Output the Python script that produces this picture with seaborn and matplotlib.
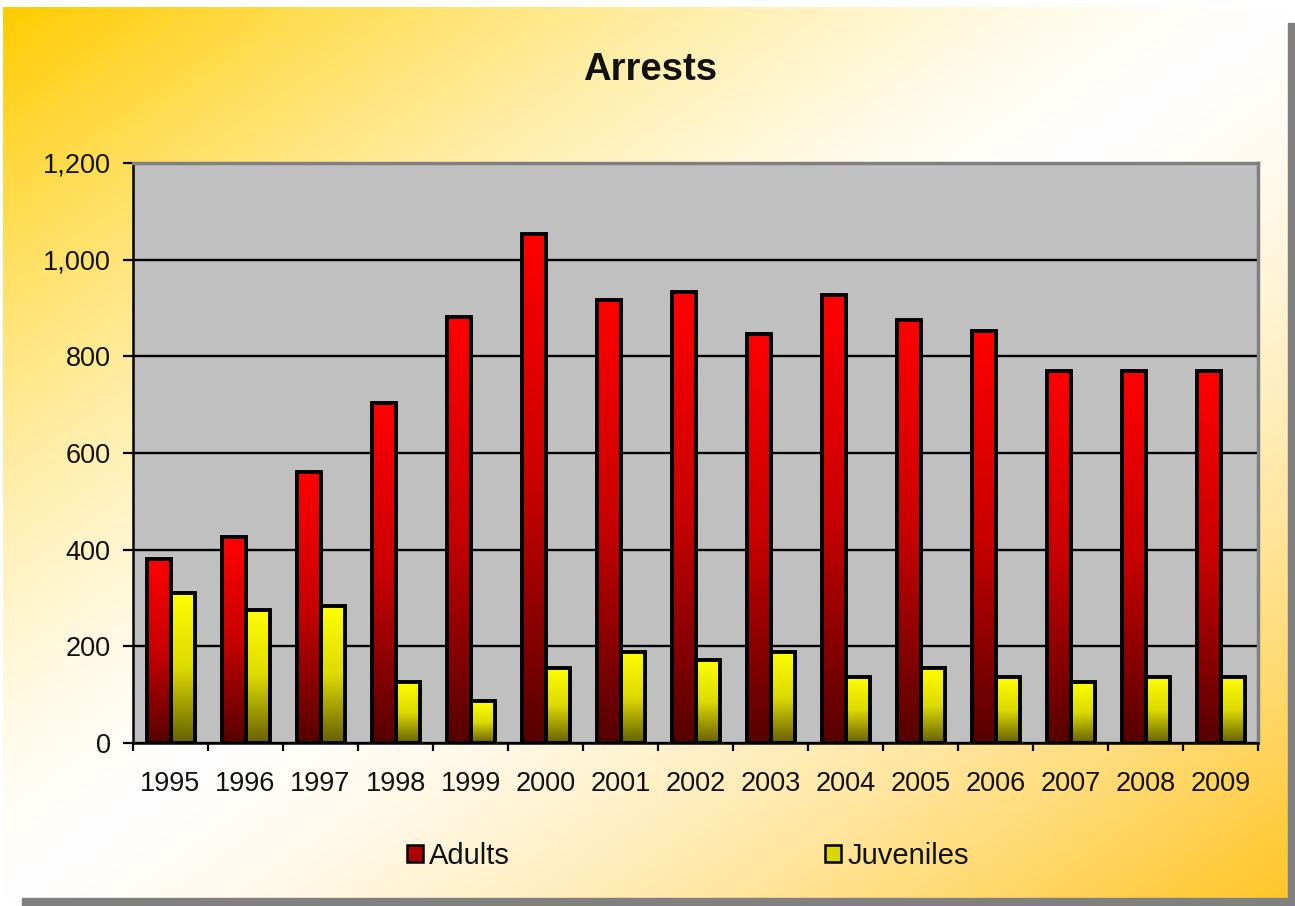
import numpy as np
import pandas as pd
import matplotlib
matplotlib.use("Agg")
import matplotlib.pyplot as plt
from matplotlib.patches import Rectangle, Patch
from matplotlib.colors import LinearSegmentedColormap
import seaborn as sns

years = ["1995", "1996", "1997", "1998", "1999", "2000", "2001", "2002",
         "2003", "2004", "2005", "2006", "2007", "2008", "2009"]
adults = [380, 426, 560, 703, 881, 1054, 917, 933, 847, 927, 875, 852, 770, 770, 770]
juveniles = [311, 276, 283, 127, 86, 156, 189, 172, 189, 137, 155, 137, 127, 137, 137]
groups = ["Adults", "Juveniles"]
y_ticks = [0, 200, 400, 600, 800, 1000, 1200]

df = pd.DataFrame({
    "Year": years * 2,
    "Arrests": adults + juveniles,
    "Group": [groups[0]] * len(years) + [groups[1]] * len(years),
})

sns.set_theme(style="white")
plt.rcParams["font.family"] = ["Liberation Sans", "DejaVu Sans"]

W, H = 1295, 906
fig = plt.figure(figsize=(W / 100, H / 100), dpi=100)
fig.patch.set_facecolor("white")

# background panel with diagonal gold-white-gold gradient
bg = fig.add_axes([0, 0, 1, 1], zorder=-10)
bg.set_xlim(0, W)
bg.set_ylim(H, 0)
bg.axis("off")
px0, px1, py0, py1 = 3, 1288, 7, 898
nx, ny = 400, 300
u = np.linspace(0, 1, nx)[None, :]
v = np.linspace(0, 1, ny)[:, None]
t = (u + v) / 2
f = (np.abs(t - 0.5) * 2) ** 1.4
gold_tl = np.array([255, 204, 0]) / 255
gold_br = np.array([255, 198, 40]) / 255
gold = np.where((t < 0.5)[..., None], gold_tl, gold_br)
white = np.ones(3)
img = white + (gold - white) * f[..., None]
bg.imshow(img, extent=[px0, px1, py1, py0], aspect="auto", interpolation="bilinear", zorder=0)
bg.add_patch(Rectangle((1288, 23), 7, 883, color="#808080", zorder=1))
bg.add_patch(Rectangle((22, 898), 1273, 8, color="#808080", zorder=1))

# main axes
ax = fig.add_axes([133 / W, 1 - 743 / H, (1258 - 133) / W, (743 - 163) / H])
ax.set_facecolor("#C0C0C0")

sns.barplot(data=df, x="Year", y="Arrests", hue="Group",
            palette=["#FF0000", "#FFFF00"], width=0.64,
            edgecolor="black", linewidth=2.8, saturation=1,
            legend=False, ax=ax)

ax.set_xlim(-0.5, len(years) - 0.5)
ax.set_ylim(0, 1200)

# gradient fills inside the bars
cmaps = [
    LinearSegmentedColormap.from_list("red", [(0, "#560000"), (0.5, "#C80000"), (1, "#FF0000")]),
    LinearSegmentedColormap.from_list("yel", [(0, "#666000"), (0.5, "#DDDA00"), (1, "#FFFF00")]),
]
grad = np.linspace(1, 0, 256)[:, None]
for cont, cm in zip(ax.containers, cmaps):
    for bar in cont:
        x, w, h = bar.get_x(), bar.get_width(), bar.get_height()
        im = ax.imshow(grad, cmap=cm, vmin=0, vmax=1, extent=[x, x + w, 0, h],
                       aspect="auto", interpolation="bilinear", zorder=0.9)
        im.set_clip_path(bar)
        bar.set_facecolor("none")
        bar.set_zorder(1.5)

ax.set_xlim(-0.5, len(years) - 0.5)
ax.set_ylim(0, 1200)

# grid and spines
ax.set_axisbelow(True)
ax.yaxis.grid(True, color="black", linewidth=1.7)
ax.xaxis.grid(False)
ax.set_yticks(y_ticks)
ax.set_yticklabels([f"{v:,}" for v in y_ticks])
ax.set_xticks(range(len(years)))
ax.set_xticklabels(years)
ax.set_xticks(np.arange(-0.5, len(years), 1), minor=True)
ax.tick_params(axis="x", which="major", length=0, pad=20, labelsize=19.5, colors="#111111")
ax.tick_params(axis="x", which="minor", length=6, width=1.6, color="black", direction="out", bottom=True)
ax.tick_params(axis="y", which="major", length=7, width=1.6, color="black", direction="out",
               pad=9, labelsize=19.5, labelcolor="#111111", left=True)
ax.set_xlabel("")
ax.set_ylabel("")
for s in ["left", "bottom"]:
    ax.spines[s].set_color("black")
    ax.spines[s].set_linewidth(1.8)
for s in ["top", "right"]:
    ax.spines[s].set_color("#808080")
    ax.spines[s].set_linewidth(2.5)

fig.text(650 / W, 1 - 70 / H, "Arrests", ha="center", va="center",
         fontsize=27.5, fontweight="bold", color="#111111")

handles = [Patch(facecolor="#B00000", edgecolor="black", linewidth=1.8, label=groups[0]),
           Patch(facecolor="#D8D800", edgecolor="black", linewidth=1.8, label=groups[1])]
fig.legend(handles=handles, loc="center", bbox_to_anchor=(688 / W, 1 - 856 / H),
           ncol=2, frameon=False, fontsize=21, handlelength=0.55, handleheight=0.55,
           handletextpad=0.2, columnspacing=10.8, labelcolor="#111111")

fig.savefig("out.png", dpi=100)
